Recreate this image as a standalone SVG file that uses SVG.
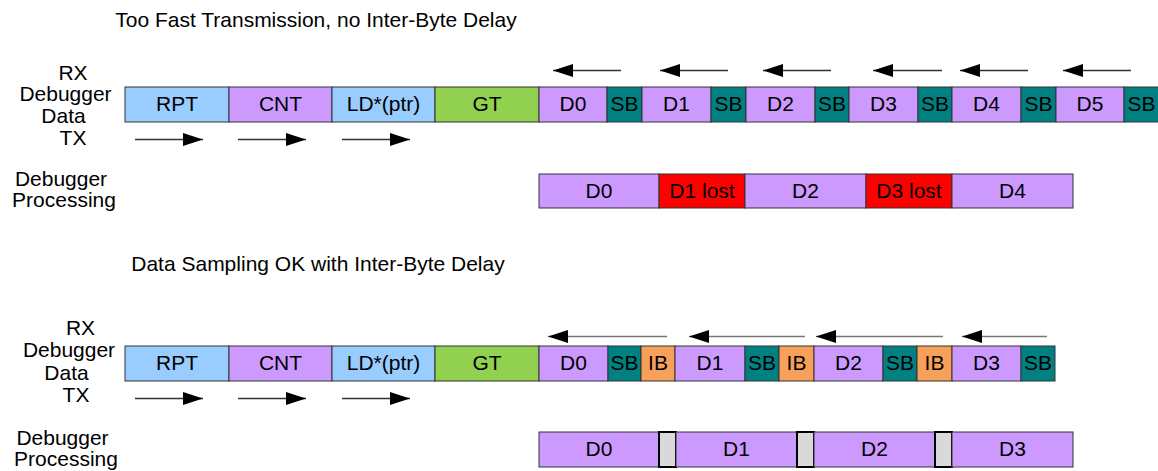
<svg xmlns="http://www.w3.org/2000/svg" width="1158" height="471" viewBox="0 0 1158 471">
<defs>
<style>
text{font-family:"Liberation Sans",Arial,sans-serif;font-size:20px;fill:#000;text-anchor:middle;transform-box:fill-box;transform-origin:center;transform:scaleX(1.05)}
.box{stroke:#333;stroke-width:1}
.blue{fill:#99ccff}.vio{fill:#cc99ff}.grn{fill:#92d050}.sb{fill:#008080}.ib{fill:#f6a05a}.red{fill:#ff0000}
.gap{fill:#d9d9d9;stroke:#000;stroke-width:2}
.arr{stroke:#333;stroke-width:1.5;fill:none;marker-end:url(#ah)}
.arr2{stroke:#777;stroke-width:1.5;fill:none;marker-end:url(#ah)}
</style>
<marker id="ah" markerUnits="userSpaceOnUse" markerWidth="20" markerHeight="13" refX="20" refY="6.5" orient="auto">
<path d="M0,0 L20,6.5 L0,13 Z" fill="#000"/>
</marker>
</defs>
<rect width="1158" height="471" fill="#fff"/>

<g id="titles">
<text x="316" y="27">Too Fast Transmission, no Inter-Byte Delay</text>
<text x="318" y="271.5">Data Sampling OK with Inter-Byte Delay</text>
</g>

<g id="labels-top">
<text x="73" y="80">RX</text>
<text x="65.5" y="101.5">Debugger</text>
<text x="63.5" y="123">Data</text>
<text x="73" y="145">TX</text>
<text x="61" y="186">Debugger</text>
<text x="64" y="207">Processing</text>
</g>
<g id="labels-bottom">
<text x="80.5" y="335">RX</text>
<text x="69" y="357.5">Debugger</text>
<text x="66.5" y="380">Data</text>
<text x="76" y="402">TX</text>
<text x="62.5" y="445">Debugger</text>
<text x="66" y="466">Processing</text>
</g>

<g id="top-bar">
<g id="t-rpt"><rect class="box blue" x="125" y="87" width="104" height="35"/><text x="177" y="111.5">RPT</text></g>
<g id="t-cnt"><rect class="box vio" x="229" y="87" width="103" height="35"/><text x="280.5" y="111.5">CNT</text></g>
<g id="t-ld"><rect class="box blue" x="332" y="87" width="103" height="35"/><text x="383.5" y="111.5">LD*(ptr)</text></g>
<g id="t-gt"><rect class="box grn" x="435" y="87" width="104" height="35"/><text x="487" y="111.5">GT</text></g>
<g id="t-d0"><rect class="box vio" x="539" y="87" width="68" height="35"/><text x="573" y="111.5">D0</text></g>
<g id="t-sb0"><rect class="box sb" x="607" y="87" width="35" height="35"/><text x="624.5" y="111.5">SB</text></g>
<g id="t-d1"><rect class="box vio" x="642" y="87" width="69" height="35"/><text x="676.5" y="111.5">D1</text></g>
<g id="t-sb1"><rect class="box sb" x="711" y="87" width="35" height="35"/><text x="728.5" y="111.5">SB</text></g>
<g id="t-d2"><rect class="box vio" x="746" y="87" width="69" height="35"/><text x="780.5" y="111.5">D2</text></g>
<g id="t-sb2"><rect class="box sb" x="815" y="87" width="34" height="35"/><text x="832" y="111.5">SB</text></g>
<g id="t-d3"><rect class="box vio" x="849" y="87" width="69" height="35"/><text x="883.5" y="111.5">D3</text></g>
<g id="t-sb3"><rect class="box sb" x="918" y="87" width="34" height="35"/><text x="935" y="111.5">SB</text></g>
<g id="t-d4"><rect class="box vio" x="952" y="87" width="69" height="35"/><text x="986.5" y="111.5">D4</text></g>
<g id="t-sb4"><rect class="box sb" x="1021" y="87" width="35" height="35"/><text x="1038.5" y="111.5">SB</text></g>
<g id="t-d5"><rect class="box vio" x="1056" y="87" width="68" height="35"/><text x="1090" y="111.5">D5</text></g>
<g id="t-sb5"><rect class="box sb" x="1124" y="87" width="35" height="35"/><text x="1141.5" y="111.5">SB</text></g>
</g>

<g id="top-proc">
<g id="tp-d0"><rect class="box vio" x="539" y="174" width="120" height="34"/><text x="599" y="198">D0</text></g>
<g id="tp-d1"><rect class="box red" x="659" y="174" width="86" height="34"/><text x="702" y="198">D1 lost</text></g>
<g id="tp-d2"><rect class="box vio" x="745" y="174" width="121" height="34"/><text x="805.5" y="198">D2</text></g>
<g id="tp-d3"><rect class="box red" x="866" y="174" width="86" height="34"/><text x="909" y="198">D3 lost</text></g>
<g id="tp-d4"><rect class="box vio" x="952" y="174" width="121" height="34"/><text x="1012.5" y="198">D4</text></g>
</g>

<g id="bottom-bar">
<g id="b-rpt"><rect class="box blue" x="125" y="346" width="104" height="35"/><text x="177" y="370.5">RPT</text></g>
<g id="b-cnt"><rect class="box vio" x="229" y="346" width="103" height="35"/><text x="280.5" y="370.5">CNT</text></g>
<g id="b-ld"><rect class="box blue" x="332" y="346" width="103" height="35"/><text x="383.5" y="370.5">LD*(ptr)</text></g>
<g id="b-gt"><rect class="box grn" x="435" y="346" width="104" height="35"/><text x="487" y="370.5">GT</text></g>
<g id="b-d0"><rect class="box vio" x="539" y="346" width="69" height="35"/><text x="573.5" y="370.5">D0</text></g>
<g id="b-sb0"><rect class="box sb" x="608" y="346" width="33" height="35"/><text x="624.5" y="370.5">SB</text></g>
<g id="b-ib0"><rect class="box ib" x="641" y="346" width="34" height="35"/><text x="658" y="370.5">IB</text></g>
<g id="b-d1"><rect class="box vio" x="675" y="346" width="70" height="35"/><text x="710" y="370.5">D1</text></g>
<g id="b-sb1"><rect class="box sb" x="745" y="346" width="34" height="35"/><text x="762" y="370.5">SB</text></g>
<g id="b-ib1"><rect class="box ib" x="779" y="346" width="35" height="35"/><text x="796.5" y="370.5">IB</text></g>
<g id="b-d2"><rect class="box vio" x="814" y="346" width="69" height="35"/><text x="848.5" y="370.5">D2</text></g>
<g id="b-sb2"><rect class="box sb" x="883" y="346" width="34" height="35"/><text x="900" y="370.5">SB</text></g>
<g id="b-ib2"><rect class="box ib" x="917" y="346" width="35" height="35"/><text x="934.5" y="370.5">IB</text></g>
<g id="b-d3"><rect class="box vio" x="952" y="346" width="69" height="35"/><text x="986.5" y="370.5">D3</text></g>
<g id="b-sb3"><rect class="box sb" x="1021" y="346" width="34" height="35"/><text x="1038" y="370.5">SB</text></g>
</g>

<g id="bottom-proc">
<g id="bp-d0"><rect class="box vio" x="539" y="432" width="120" height="35"/><text x="599" y="456.5">D0</text></g>
<g id="bp-g0"><rect class="gap" x="659" y="432" width="17" height="35"/></g>
<g id="bp-d1"><rect class="box vio" x="676" y="432" width="121" height="35"/><text x="736.5" y="456.5">D1</text></g>
<g id="bp-g1"><rect class="gap" x="797" y="432" width="17" height="35"/></g>
<g id="bp-d2"><rect class="box vio" x="814" y="432" width="121" height="35"/><text x="874.5" y="456.5">D2</text></g>
<g id="bp-g2"><rect class="gap" x="935" y="432" width="17" height="35"/></g>
<g id="bp-d3"><rect class="box vio" x="952" y="432" width="121" height="35"/><text x="1012.5" y="456.5">D3</text></g>
</g>

<g id="connectors">
<line class="arr" x1="621" y1="70.5" x2="553" y2="70.5"/>
<line class="arr" x1="728" y1="70.5" x2="660" y2="70.5"/>
<line class="arr" x1="831" y1="70.5" x2="763" y2="70.5"/>
<line class="arr" x1="942" y1="70.5" x2="873" y2="70.5"/>
<line class="arr" x1="1028" y1="70.5" x2="960" y2="70.5"/>
<line class="arr" x1="1131" y1="70.5" x2="1063" y2="70.5"/>
<line class="arr" x1="135" y1="139.5" x2="203" y2="139.5"/>
<line class="arr" x1="238" y1="139.5" x2="306" y2="139.5"/>
<line class="arr" x1="342" y1="139.5" x2="410" y2="139.5"/>
<line class="arr2" x1="667" y1="336.5" x2="548" y2="336.5"/>
<line class="arr2" x1="805" y1="336.5" x2="689" y2="336.5"/>
<line class="arr2" x1="943" y1="336.5" x2="816" y2="336.5"/>
<line class="arr2" x1="1047" y1="336.5" x2="962" y2="336.5"/>
<line class="arr" x1="135" y1="398.5" x2="203" y2="398.5"/>
<line class="arr" x1="238" y1="398.5" x2="306" y2="398.5"/>
<line class="arr" x1="342" y1="398.5" x2="410" y2="398.5"/>
</g>
</svg>
